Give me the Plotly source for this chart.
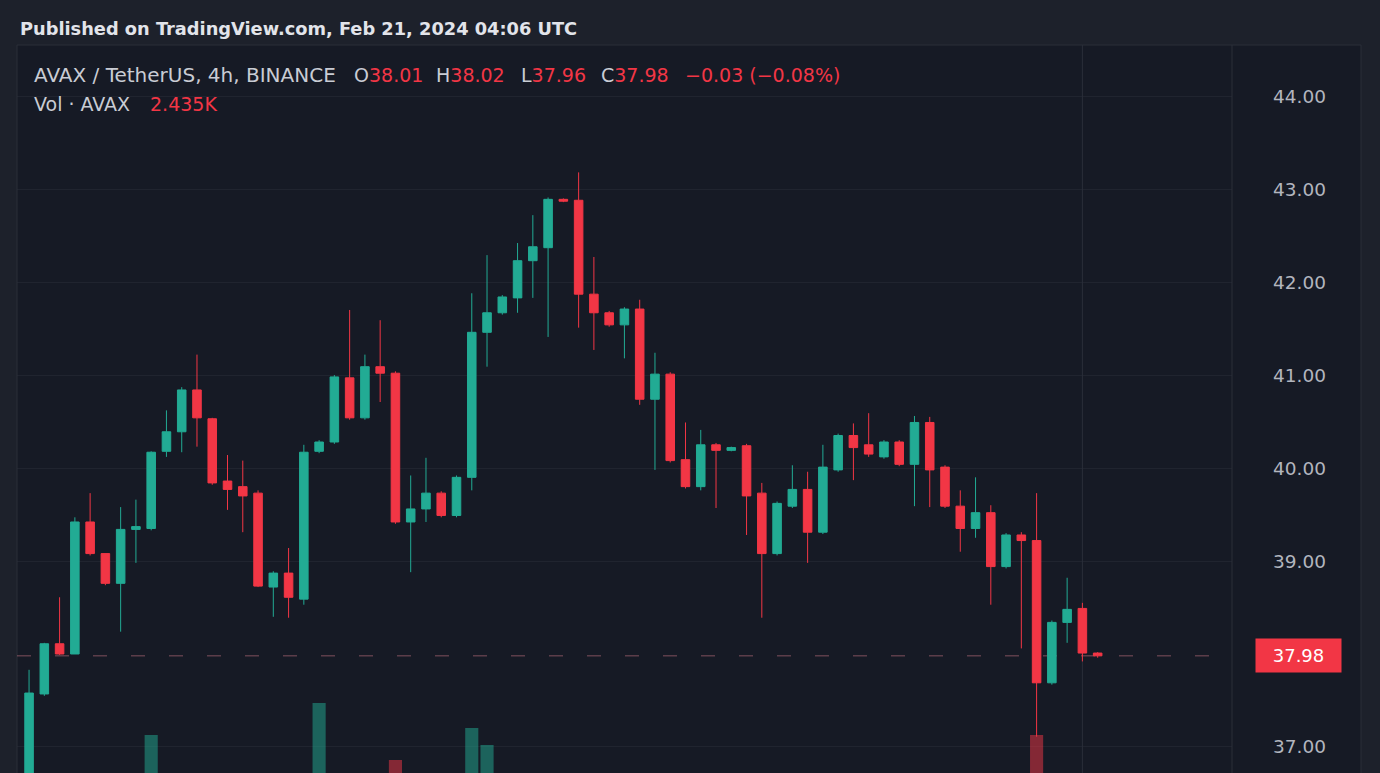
import plotly.graph_objects as go
import pandas as pd

# ---------------- data (AVAX / TetherUS, 4h, BINANCE) ----------------
times = pd.date_range("2024-02-09 12:00", periods=71, freq="4h")

opens = [36.55, 37.57, 38.11, 38.00, 39.42, 39.08, 38.76, 39.34, 39.35, 40.18,
         40.39, 40.84, 40.53, 39.86, 39.80, 39.73, 38.72, 38.87, 38.59, 40.18,
         40.28, 40.97, 40.54, 41.09, 41.02, 39.42, 39.56, 39.73, 39.49, 39.90,
         41.46, 41.67, 41.83, 42.23, 42.37, 42.89, 42.88, 41.87, 41.67, 41.54,
         41.71, 40.74, 41.01, 40.09, 39.80, 40.25, 40.19, 40.24, 39.73, 39.08,
         39.59, 39.77, 39.31, 39.98, 40.35, 40.25, 40.12, 40.28, 40.04, 40.49,
         40.01, 39.59, 39.35, 39.52, 38.94, 39.28, 39.22, 37.69, 38.34, 38.49,
         38.01]
highs = [37.83, 38.12, 38.61, 39.47, 39.73, 39.08, 39.58, 39.66, 40.18, 40.62,
         40.87, 41.22, 40.54, 40.14, 40.08, 39.76, 38.89, 39.14, 40.25, 40.30,
         41.00, 41.70, 41.22, 41.59, 41.04, 39.92, 40.11, 39.75, 39.92, 41.88,
         42.29, 41.86, 42.42, 42.72, 42.91, 42.90, 43.18, 42.27, 41.69, 41.73,
         41.81, 41.24, 41.03, 40.49, 40.41, 40.27, 40.23, 40.26, 39.84, 39.64,
         40.03, 39.96, 40.25, 40.37, 40.48, 40.59, 40.30, 40.30, 40.56, 40.55,
         40.03, 39.76, 39.90, 39.60, 39.30, 39.31, 39.73, 38.36, 38.82, 38.55,
         38.02]
lows = [36.50, 37.55, 37.99, 38.00, 39.06, 38.74, 38.24, 38.98, 39.33, 40.12,
        40.17, 40.23, 39.82, 39.55, 39.31, 38.72, 38.40, 38.39, 38.53, 40.16,
        40.26, 40.52, 40.52, 40.71, 39.40, 38.88, 39.42, 39.47, 39.47, 39.76,
        41.09, 41.65, 41.67, 41.83, 41.41, 42.86, 41.51, 41.27, 41.52, 41.18,
        40.68, 39.98, 40.06, 39.78, 39.76, 39.57, 40.18, 39.28, 38.39, 39.06,
        39.57, 38.98, 39.29, 39.96, 39.87, 40.12, 40.10, 40.02, 39.59, 39.58,
        39.57, 39.10, 39.25, 38.53, 38.92, 38.06, 37.11, 37.67, 38.12, 37.92,
        37.96]
closes = [37.58, 38.11, 38.00, 39.42, 39.08, 38.76, 39.34, 39.37, 40.17, 40.39,
          40.84, 40.54, 39.84, 39.77, 39.70, 38.73, 38.87, 38.61, 40.17, 40.28,
          40.98, 40.54, 41.09, 41.02, 39.42, 39.56, 39.73, 39.49, 39.90, 41.46,
          41.67, 41.84, 42.23, 42.38, 42.89, 42.87, 41.87, 41.67, 41.54, 41.71,
          40.74, 41.01, 40.08, 39.80, 40.25, 40.19, 40.22, 39.70, 39.08, 39.62,
          39.77, 39.31, 40.01, 40.35, 40.22, 40.15, 40.28, 40.04, 40.49, 39.98,
          39.59, 39.35, 39.52, 38.94, 39.28, 39.22, 37.69, 38.34, 38.48, 38.01,
          37.98]
volumes = [812000, 645000, 388000, 934000, 702000, 455000, 598000, 341000, 1320000, 562000,
           713000, 826000, 689000, 402000, 377000, 741000, 428000, 513000, 958000, 1576000,
           867000, 905000, 611000, 534000, 1120000, 798000, 459000, 362000, 487000, 1376000,
           1240000, 596000, 672000, 705000, 884000, 318000, 942000, 731000, 406000, 352000,
           779000, 668000, 590000, 511000, 438000, 297000, 254000, 612000, 823000, 547000,
           389000, 476000, 655000, 412000, 365000, 331000, 288000, 349000, 521000, 577000,
           433000, 398000, 366000, 627000, 414000, 502000, 1320000, 861000, 593000, 540000,
           2435]
price_ticks = [37, 39, 40, 41, 42, 43, 44]
day_line_time = times[69]

# ---------------- styling ----------------
W, H = 1380, 773
ML, MR, MT, MB = 17, 148, 45, 0
PW, PH = W - ML - MR, H - MT - MB
GREEN = "#22ab94"
RED = "#f23645"
PANEL = "#161a25"
OUTER = "#1d212b"
BORDER = "#2a2e39"
TXT = "#c9ccd4"
FONT = "DejaVu Sans"


def px(x):
    return (x - ML) / PW


def py(y):
    return (H - MB - y) / PH


vol_colors = ["rgba(34,171,148,0.5)" if c >= o else "rgba(242,54,69,0.5)"
              for o, c in zip(opens, closes)]

fig = go.Figure()
fig.add_trace(go.Bar(
    x=times, y=volumes, yaxis="y2", marker_color=vol_colors,
    marker_line_width=0, width=4 * 3600 * 1000 * 0.86, hoverinfo="skip",
    showlegend=False))
fig.add_trace(go.Candlestick(
    x=times, open=opens, high=highs, low=lows, close=closes,
    increasing=dict(line=dict(color=GREEN, width=1), fillcolor=GREEN),
    decreasing=dict(line=dict(color=RED, width=1), fillcolor=RED),
    whiskerwidth=0, showlegend=False, hoverinfo="skip"))

step = pd.Timedelta(hours=4)
x_range = [times[0] - 0.79 * step, times[0] + 78.8 * step]

last = closes[-1]
chg = closes[-1] - closes[-2]
pct = chg / closes[-2] * 100

shapes = [
    dict(type="rect", xref="paper", yref="paper", x0=px(17), x1=px(1361),
         y0=-0.05, y1=1, fillcolor=PANEL, line=dict(color=BORDER, width=1),
         layer="below"),
    dict(type="line", xref="paper", yref="paper", x0=1, x1=1, y0=-0.05, y1=1,
         line=dict(color=BORDER, width=1), layer="below"),
    dict(type="line", xref="x", yref="paper", x0=day_line_time, x1=day_line_time,
         y0=0, y1=1, line=dict(color=BORDER, width=1), layer="below"),
    dict(type="line", xref="paper", yref="y", x0=0, x1=1, y0=last, y1=last,
         line=dict(color="rgba(215,125,140,0.55)", width=1, dash="14px,24px"),
         layer="below"),
]

def red(s):
    return f"<span style='color:{RED}'>{s}</span>"

ann = []
ann.append(dict(x=px(18), y=py(28), text="Published on TradingView.com, Feb 21, 2024 04:06 UTC",
                font=dict(family=FONT, size=17.8, color="#e2e4ea", weight="bold")))
row1 = [
    (32, "AVAX / TetherUS, 4h, BINANCE"),
    (352, "O" + red(f"{opens[-1]:.2f}")),
    (434, "H" + red(f"{highs[-1]:.2f}")),
    (519, "L" + red(f"{lows[-1]:.2f}")),
    (599, "C" + red(f"{closes[-1]:.2f}")),
    (683, red(f"{chg:+.2f} ({pct:+.2f}%)".replace("-", "−"))),
]
for i, (x, t) in enumerate(row1):
    ann.append(dict(x=px(x), y=py(75), text=t,
                    font=dict(family=FONT, size=20 if i == 0 else 19, color=TXT)))
row2 = [(32, "Vol · AVAX"), (148, red(f"{volumes[-1] / 1000:.3f}K"))]
for x, t in row2:
    ann.append(dict(x=px(x), y=py(104), text=t, font=dict(family=FONT, size=19, color=TXT)))
for a in ann:
    a.update(xref="paper", yref="paper", xanchor="left", yanchor="middle", showarrow=False)

ann.append(dict(xref="paper", yref="y", x=px(1298.5), y=last, text=f"{last:.2f}",
                showarrow=False, xanchor="center", yanchor="middle",
                bgcolor=RED, width=83, height=31,
                font=dict(family=FONT, size=18, color="#ffffff")))

fig.update_layout(
    width=W, height=H,
    margin=dict(l=ML, r=MR, t=MT, b=MB, pad=0),
    paper_bgcolor=OUTER, plot_bgcolor=PANEL,
    boxgap=0.2,
    showlegend=False,
    shapes=shapes, annotations=ann,
    xaxis=dict(type="date", range=x_range, showgrid=False, zeroline=False,
               showticklabels=False, rangeslider=dict(visible=False),
               showline=False, ticks=""),
    yaxis=dict(range=[36.72, 44.55], side="right", tickvals=price_ticks,
               tickformat=".2f", showgrid=True, gridcolor="rgba(42,46,57,0.5)",
               gridwidth=1, zeroline=False, showline=False, ticks="",
               ticklabelstandoff=40,
               tickfont=dict(family=FONT, size=18.5, color="#b2b5be")),
    yaxis2=dict(overlaying="y", range=[1016000, 6840000], visible=False,
                showgrid=False, zeroline=False),
)

fig.write_html(
    "out.html",
    config={"displayModeBar": False},
    post_script="document.body.style.margin='0';document.body.style.background='%s';" % OUTER,
)
